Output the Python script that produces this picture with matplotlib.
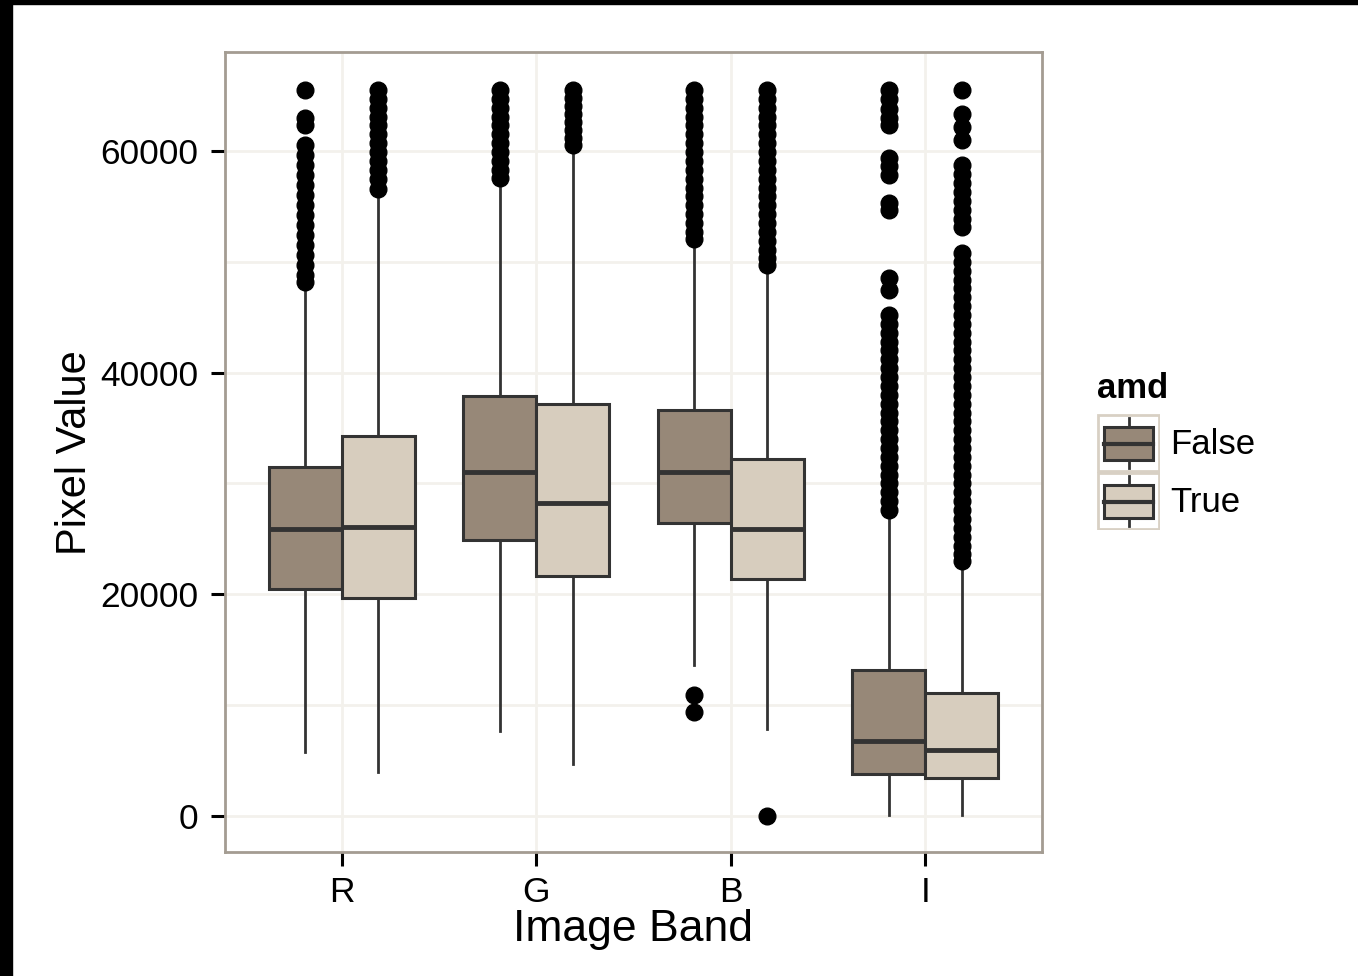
import matplotlib
matplotlib.use("Agg")
import matplotlib.pyplot as plt
from matplotlib.patches import Rectangle
from matplotlib.lines import Line2D

plt.rcParams['font.family'] = ['Liberation Sans', 'DejaVu Sans']

# ---------------- data ----------------
bands = ["R", "G", "B", "I"]
groups = ["False", "True"]

# per band: [False, True]
q1     = {"R": [20480, 19670], "G": [24900, 21650], "B": [26440, 21380], "I": [3790, 3430]}
median = {"R": [25900, 26080], "G": [31040, 28240], "B": [31040, 25900], "I": [6770, 5960]}
q3     = {"R": [31490, 34290], "G": [37890, 37170], "B": [36630, 32210], "I": [13170, 11100]}
whislo = {"R": [5770, 3970],   "G": [7670, 4690],   "B": [13620, 7850],  "I": [90, 90]}
whishi = {"R": [47460, 55850], "G": [57110, 60090], "B": [51700, 49260], "I": [27160, 22470]}

out_R_false = [65535, 63000, 62300, 60500, 59600, 58700, 57800, 56900, 56000, 55100, 54200,
               53300, 52400, 51500, 50600, 49700, 48800, 48200]
out_R_true = [65500, 64700, 63900, 63100, 62300, 61500, 60700, 59900, 59100, 58300, 57500,
              56600]
out_G_false = [65535, 64700, 63900, 63100, 62300, 61500, 60700, 59900, 59100, 58300, 57600]
out_G_true = [65535, 64800, 64100, 63300, 62600, 61900, 61200, 60500]
out_B_false = [65535, 64700, 63900, 63100, 62300, 61500, 60700, 59900, 59100, 58300, 57500,
               56700, 55900, 55100, 54300, 53500, 52700, 52100, 10900, 9400]
out_B_true = [65535, 64700, 63900, 63100, 62300, 61500, 60700, 59900, 59100, 58300, 57500,
              56700, 55900, 55100, 54300, 53500, 52700, 51900, 51100, 50300, 49700, 0]
out_I_false = [65535, 64700, 63800, 63000, 62300, 59400, 58600, 57800, 55300, 54700,
               48500, 47500, 45200, 44400, 43600, 42800, 42000, 41200, 40400, 39600, 38800,
               38000, 37200, 36400, 35600, 34800, 34000, 33200, 32400, 31600, 30800, 30000,
               29200, 28400, 27600]
out_I_true = [65535, 63300, 62200, 61000, 58700, 57900, 57100, 56300, 55500, 54700, 53900,
              53100, 50800, 50000, 49200, 48400, 47600, 46800, 46000, 45200, 44400, 43600,
              42800, 42000, 41200, 40400, 39600, 38800, 38000, 37200, 36400, 35600, 34800,
              34000, 33200, 32400, 31600, 30800, 30000, 29200, 28400, 27600, 26800, 26000,
              25200, 24400, 23600, 23000]
outliers = {"R": [out_R_false, out_R_true], "G": [out_G_false, out_G_true],
            "B": [out_B_false, out_B_true], "I": [out_I_false, out_I_true]}

y_ticks = [0, 20000, 40000, 60000]
y_minor = [10000, 30000, 50000]

# ---------------- style ----------------
fills = ["#978878", "#d7cdbe"]
edge = "#333333"
grid_c = "#f3f1ec"
border_c = "#a49c92"

W, H = 1358, 976
fig = plt.figure(figsize=(W / 100, H / 100), dpi=100)
fig.patch.set_facecolor("white")

# black frame bits of the screenshot
fig.patches.append(Rectangle((0, 1 - 4 / H), 1, 4 / H, transform=fig.transFigure,
                             color="black", zorder=10))
fig.patches.append(Rectangle((0, 0), 12 / W, 1, transform=fig.transFigure,
                             color="black", zorder=10))

L, R_, T, B = 225, 1042, 52, 852
ax = fig.add_axes([L / W, 1 - B / H, (R_ - L) / W, (B - T) / H])
ax.set_facecolor("white")

dodge = 0.1875
width = 0.375
for i, band in enumerate(bands):
    for g in range(2):
        pos = i + 1 + (-dodge if g == 0 else dodge)
        stats = [dict(med=median[band][g], q1=q1[band][g], q3=q3[band][g],
                      whislo=whislo[band][g], whishi=whishi[band][g],
                      fliers=outliers[band][g])]
        ax.bxp(stats, positions=[pos], widths=width, patch_artist=True,
               showcaps=False, manage_ticks=False,
               boxprops=dict(facecolor=fills[g], edgecolor=edge, linewidth=2.2),
               whiskerprops=dict(color=edge, linewidth=2.0),
               medianprops=dict(color=edge, linewidth=3.5, solid_capstyle="butt"),
               flierprops=dict(marker="o", markerfacecolor="black",
                               markeredgecolor="black", markersize=12, linestyle="none"))

ax.set_xlim(0.4, 4.6)
ax.set_ylim(-3250, 68930)
ax.set_xticks(range(1, len(bands) + 1))
ax.set_xticklabels(bands)
ax.set_yticks(y_ticks)
ax.set_yticklabels([str(v) for v in y_ticks])
ax.set_yticks(y_minor, minor=True)
ax.tick_params(axis="y", which="minor", length=0)
ax.grid(True, which="both", axis="y", color=grid_c, linewidth=2, zorder=0)
ax.grid(True, which="major", axis="x", color=grid_c, linewidth=2, zorder=0)
ax.set_axisbelow(True)
for s in ax.spines.values():
    s.set_color(border_c)
    s.set_linewidth(2)
ax.tick_params(axis="both", which="major", length=10, width=2.2, color="black",
               labelsize=25.5, labelcolor="black", pad=9)
ax.tick_params(axis="x", pad=7)

fig.text(633 / W, 1 - 930 / H, "Image Band", ha="center", va="center", fontsize=32)
fig.text(75 / W, 1 - 453 / H, "Pixel Value", ha="center", va="center", fontsize=30,
         rotation=90)

# ---------------- legend ----------------
fig.text(1097 / W, 1 - 389 / H, "amd", ha="left", va="center", fontsize=25,
         fontweight="bold")
lx, ly, lw, lh = 1097, 414, 63, 116
lax = fig.add_axes([lx / W, 1 - (ly + lh) / H, lw / W, lh / H])
lax.set_xlim(0, lw)
lax.set_ylim(lh, 0)
lax.axis("off")
for g in range(2):
    y0 = g * 58
    lax.add_patch(Rectangle((1, y0 + 1), lw - 2, 56, facecolor="white",
                            edgecolor="#d8d0c4", linewidth=2))
    cx = lw / 2
    lax.add_line(Line2D([cx, cx], [y0 + 4, y0 + 54], color=edge, linewidth=2))
    lax.add_patch(Rectangle((7, y0 + 13), lw - 14, 33, facecolor=fills[g],
                            edgecolor=edge, linewidth=2.2, zorder=3))
    lax.add_line(Line2D([7, lw - 7], [y0 + 29.5, y0 + 29.5], color=edge,
                        linewidth=3, zorder=4))
    fig.text(1170 / W, 1 - (444 + g * 58) / H, groups[g], ha="left", va="center",
             fontsize=25)

fig.savefig("out.png", dpi=100)
